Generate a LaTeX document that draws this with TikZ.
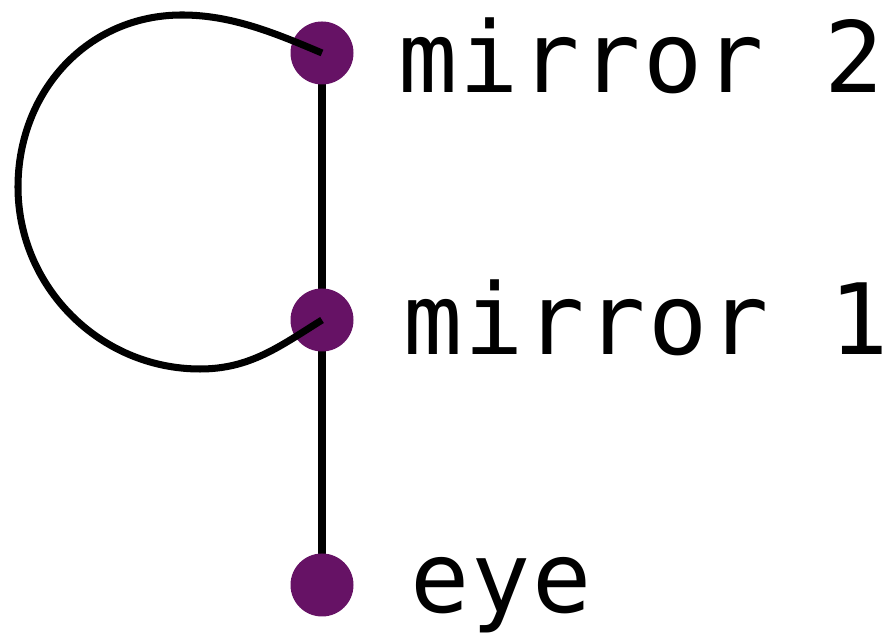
\documentclass[tikz,border=0pt]{standalone}
\usepackage{fontspec}
\newfontfamily\labelfont[LetterSpace=2]{DejaVu Sans Mono}
\usetikzlibrary{positioning,backgrounds}
\definecolor{dotpurple}{RGB}{102,18,101}

\begin{document}
\begin{tikzpicture}[
    on grid,
    dot/.style={circle, fill=dotpurple, minimum size=1.26cm, inner sep=0pt},
    wire/.style={line width=4pt},
    lbl/.style={anchor=base west, font=\labelfont\fontsize{56}{56}\selectfont, inner sep=0pt}
]
    \useasboundingbox (0,0) rectangle (17.9,12.8);

    % Dots
    \node[dot] (eye) at (6.44,1.1) {};
    \node[dot, above=5.3cm of eye] (m1) {};
    \node[dot, above=5.34cm of m1] (m2) {};

    % Straight path (behind the dots)
    \begin{scope}[on background layer]
        \draw[wire] (m2.center) -- (eye.center);
    \end{scope}

    % Loop between the mirrors
    \coordinate (looptop) at (3.64,12.5);
    \coordinate (loopleft) at (0.36,9.06);
    \coordinate (loopbottom) at (4.0,5.42);
    \draw[wire] (m2.center) .. controls +(157:1.0) and +(0:1.0) .. (looptop)
        .. controls +(180:1.9) and +(90:1.9) .. (loopleft)
        .. controls +(-90:2.0) and +(180:2.0) .. (loopbottom)
        .. controls +(0:1.0) and +(212:1.0) .. (m1.center);

    % Labels
    \node[lbl] (t2) at ([shift={(1.52,-0.8)}]m2.center) {mirror 2};
    \node[lbl] (t1) at ([shift={(1.62,-0.7)}]m1.center) {mirror 1};
    \node[lbl] (te) at ([shift={(1.76,-0.55)}]eye.center) {eye};

\end{tikzpicture}
\end{document}
